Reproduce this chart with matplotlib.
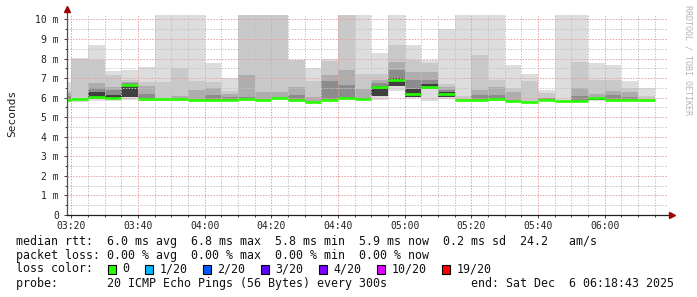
import numpy as np
import matplotlib
matplotlib.use("Agg")
import matplotlib.pyplot as plt
from matplotlib.patches import Rectangle

MONO = "DejaVu Sans Mono"

# 5 minute bins, first one ends at 03:20 (minutes after midnight)
first_bin_end = 200
step = 5
t_start, t_end = 198.72, 378.72   # 03:18:43 .. 06:18:43

nan = np.nan
# smoke levels in ms per bin
median = [5.90, 5.92, 6.06, 5.99, 6.66, 5.94, 5.92, 5.92, 5.90, 5.90,
          5.90, 5.93, 5.90, 5.96, 5.86, 5.80, 5.90, 5.96, 5.95, 6.55,
          6.88, 6.18, 6.55, 6.20, 5.90, 5.90, 5.92, 5.85, 5.80, 5.87,
          5.85, 5.85, 5.96, 5.90, 5.90, 5.90]
ping_min = [5.82, 5.80, 5.85, 5.85, 5.90, 5.82, 5.85, 5.85, 5.84, 5.82,
            5.82, 5.85, 5.85, 5.88, 5.80, 5.74, 5.85, 5.88, 5.88, 5.90,
            6.35, 6.00, 5.85, 5.95, 5.85, 5.82, 5.85, 5.80, 5.75, 5.82,
            5.80, 5.78, 5.85, 5.85, 5.85, 5.80]
ping_max = [6.78, 8.03, 8.70, 7.37, 7.40, 7.55, 10.6, 10.6, 10.6, 7.80,
            7.00, 10.6, 10.6, 10.6, 7.93, 7.50, 8.00, 10.6, 10.6, 8.30,
            10.6, 8.70, 7.95, 9.50, 10.6, 10.6, 10.6, 7.67, 7.20, 6.40,
            10.6, 10.6, 7.80, 7.67, 6.85, 6.50]
p90 = [6.35, 8.00, 7.93, 7.16, 6.90, 6.80, 6.82, 7.50, 6.85, 6.80,
       6.35, 10.6, 10.6, 10.6, 7.93, 6.83, 7.90, 10.6, 7.20, 7.20,
       8.70, 7.93, 7.80, 6.70, 6.10, 8.20, 6.90, 6.52, 6.85, 6.25,
       nan, 7.85, 6.90, 6.90, 6.50, 6.10]
p75 = [6.22, nan, 6.75, 6.57, 6.82, 6.62, nan, 6.10, 6.40, 6.48,
       6.20, 7.16, 6.30, 6.30, 6.53, 6.05, 7.16, 7.40, 6.45, 6.90,
       7.85, 7.30, 7.30, 6.55, nan, 6.40, 6.55, 6.30, nan, nan,
       nan, 6.48, 6.20, 6.35, 6.30, nan]
p60 = [6.10, nan, 6.48, 6.39, 6.75, 6.20, nan, nan, nan, 6.14,
       6.05, 6.05, nan, nan, 6.14, nan, 6.85, 6.65, nan, 6.75,
       7.40, 6.90, 6.90, 6.40, nan, 6.14, 6.14, nan, nan, 6.00,
       nan, 6.10, nan, 6.14, 6.05, nan]
core_lo = [nan, nan, 5.95, 5.92, 6.02, nan, nan, nan, nan, nan,
           nan, nan, nan, nan, nan, nan, nan, nan, nan, 6.10,
           6.60, 6.05, 6.45, 6.05, nan, nan, nan, nan, nan, nan,
           nan, nan, 5.88, nan, nan, nan]
core_hi = [nan, nan, 6.30, 6.14, 6.62, nan, nan, nan, nan, nan,
           nan, nan, nan, nan, nan, nan, nan, nan, nan, 6.60,
           7.00, 6.45, 6.70, 6.30, nan, nan, nan, nan, nan, nan,
           nan, nan, 5.96, nan, nan, nan]

loss_colors = ['#26ff00', '#00b8ff', '#0059ff', '#5e00ff', '#7e00ff', '#dd00ff', '#ff0000']
loss_labels = ['0', '1/20', '2/20', '3/20', '4/20', '10/20', '19/20']

line_rtt = "median rtt:  6.0 ms avg  6.8 ms max  5.8 ms min  5.9 ms now  0.2 ms sd  24.2   am/s"
line_loss = "packet loss: 0.00 % avg  0.00 % max  0.00 % min  0.00 % now"
line_probe = "probe:       20 ICMP Echo Pings (56 Bytes) every 300s            end: Sat Dec  6 06:18:43 2025"

n = len(median)
edges = first_bin_end - step + step * np.arange(n + 1)


def band(ax, lo, hi, color):
    lo = np.asarray(lo, float)
    hi = np.asarray(hi, float)
    ok = ~(np.isnan(lo) | np.isnan(hi))
    lo2 = np.where(ok, lo, 0.0)
    hi2 = np.where(ok, hi, 0.0)
    ax.stairs(hi2, edges, baseline=lo2, fill=True, color=color, lw=0, zorder=1)


fig = plt.figure(figsize=(6.97, 2.97), dpi=100)
ax = fig.add_axes([67 / 697, 82 / 297, 600 / 697, 200 / 297])

band(ax, ping_min, ping_max, '#dddddd')
band(ax, median, p90, '#c9c9c9')
band(ax, median, p75, '#adadad')
band(ax, median, p60, '#8c8c8c')
band(ax, core_lo, core_hi, '#404040')
ax.hlines(median, edges[:-1], edges[1:], color=loss_colors[0], lw=1.9, zorder=3)

ax.set_xlim(t_start, t_end)
ax.set_ylim(0, 10.23)

major_x = np.arange(200, 361, 20)
ax.set_xticks(major_x)
ax.set_xticklabels(["%02d:%02d" % (m // 60, m % 60) for m in major_x])
ax.set_xticks(np.arange(200, 376, 5), minor=True)
ax.set_yticks(np.arange(0, 11))
ax.set_yticklabels(["0"] + ["%d m" % v for v in range(1, 11)])
ax.set_yticks(np.arange(0.5, 10.3, 1.0), minor=True)

dots = (0, (1.5, 1.5))
ax.set_axisbelow(False)
ax.grid(which='major', color='#e8a0a0', ls=dots, lw=0.7)
ax.grid(which='minor', color='#c4c4c4', ls=dots, lw=0.7)

for s in ax.spines.values():
    s.set_visible(False)
ax.tick_params(which='major', length=2.2, width=0.7, color='#404040',
               labelsize=7, labelcolor='#222222')
ax.tick_params(which='minor', length=1.4, width=0.7, color='#404040')
ax.tick_params(axis='y', pad=3.6)
ax.tick_params(axis='x', pad=2.0)
for lab in ax.get_xticklabels() + ax.get_yticklabels():
    lab.set_family(MONO)

# axis lines with arrows
ax.plot([0, 0], [0, 1.025], transform=ax.transAxes, color='#505050', lw=0.9, clip_on=False, zorder=4)
ax.plot([0, 1.005], [0, 0], transform=ax.transAxes, color='#202020', lw=0.9, clip_on=False, zorder=4)
ax.plot([0], [1.03], marker='^', ms=4, color='#a00000', transform=ax.transAxes, clip_on=False, zorder=5)
ax.plot([1.008], [0], marker='>', ms=4, color='#a00000', transform=ax.transAxes, clip_on=False, zorder=5)

W, H = 697.0, 297.0
fig.text(12 / W, 1 - 113 / H, 'Seconds', rotation=90, ha='center', va='center',
         family=MONO, size=8, color='#222222')
fig.text(688 / W, 1 - 5 / H, 'RRDTOOL / TOBI OETIKER', rotation=-90, ha='center', va='top',
         family=MONO, size=6, color='#b4b4b4')

FS = 8.4
fig.text(16 / W, 1 - 241 / H, line_rtt, ha='left', va='center', family=MONO, size=FS, color='#111111')
fig.text(16 / W, 1 - 255 / H, line_loss, ha='left', va='center', family=MONO, size=FS, color='#111111')
fig.text(16 / W, 1 - 269 / H, 'loss color:', ha='left', va='center', family=MONO, size=FS, color='#111111')
fig.text(16 / W, 1 - 283 / H, line_probe, ha='left', va='center', family=MONO, size=FS, color='#111111')

x = 108.0
for c, lab in zip(loss_colors, loss_labels):
    fig.patches.append(Rectangle((x / W, 1 - 273.7 / H), 8.4 / W, 8.4 / H, facecolor=c,
                                 edgecolor='black', lw=0.8, transform=fig.transFigure, figure=fig))
    fig.text((x + 14.5) / W, 1 - 269 / H, lab, ha='left', va='center', family=MONO, size=FS, color='#111111')
    x = x + 14.5 + 7.0 * len(lab) + 15.5

plt.savefig("out.png", dpi=100)
